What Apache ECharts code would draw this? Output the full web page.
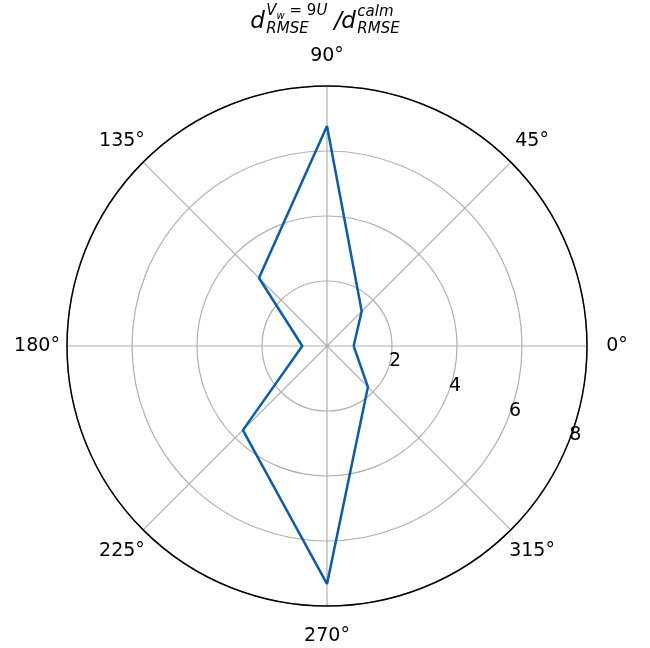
<!DOCTYPE html>
<html>
<head>
<meta charset="utf-8">
<script src="https://cdn.jsdelivr.net/npm/echarts@6/dist/echarts.min.js"></script>
<style>
  html, body { margin: 0; padding: 0; background: #fff; }
  #chart { width: 650px; height: 648px; }
</style>
</head>
<body>
<div id="chart"></div>
<script>
// Direction of each measurement (degrees) and RMSE ratio windy / calm
const directions = [0, 45, 90, 135, 180, 225, 270, 315];
const rmseRatio = [0.82, 1.51, 6.77, 2.96, 0.76, 3.66, 7.32, 1.78];
const angleLabels = ['0°', '45°', '90°', '135°', '180°', '225°', '270°', '315°'];
const radialTicks = [2, 4, 6, 8];
const radialLabelAngle = 337.5;

const FONT = 'DejaVu Sans';
const CX = 327, CY = 346, R = 260;
const GRID = { color: '#b0b0b0', width: 1.2 };

// closed polygon: repeat the first direction at 360°
const lineData = directions.map((a, i) => [rmseRatio[i], a]);
lineData.push([rmseRatio[0], 360]);

const chart = echarts.init(document.getElementById('chart'), null, { renderer: 'canvas' });

const hiddenAxis = {
  axisLine: { show: false }, axisTick: { show: false },
  axisLabel: { show: false }, splitLine: { show: false }
};

const tickLabelStyle = {
  show: true, position: 'inside', color: '#000',
  textBorderWidth: 0, textShadowBlur: 0,
  fontFamily: FONT, fontSize: 19
};

// invisible anchor symbols that only carry tick labels
const anchorItem = { color: 'transparent', opacity: 1 };

chart.setOption({
  backgroundColor: '#ffffff',
  animation: false,
  polar: [
    { center: [CX, CY], radius: R },
    // ring just outside the frame that carries the direction labels
    { center: [CX, CY], radius: R + 30 }
  ],
  angleAxis: [
    {
      polarIndex: 0,
      type: 'value', min: 0, max: 360, interval: 45,
      startAngle: 0, clockwise: false,
      axisLine: { show: true, lineStyle: { color: '#000', width: 1.5 } },
      axisTick: { show: false },
      axisLabel: { show: false },
      splitLine: { show: true, lineStyle: GRID }
    },
    Object.assign({
      polarIndex: 1, type: 'value', min: 0, max: 360,
      startAngle: 0, clockwise: false
    }, hiddenAxis)
  ],
  radiusAxis: [
    {
      polarIndex: 0,
      type: 'value', min: 0, max: radialTicks[radialTicks.length - 1], interval: 2,
      axisLine: { show: false }, axisTick: { show: false },
      axisLabel: { show: false },
      splitLine: { show: true, lineStyle: GRID }
    },
    Object.assign({ polarIndex: 1, type: 'value', min: 0, max: 1 }, hiddenAxis)
  ],
  series: [
    {
      type: 'line',
      coordinateSystem: 'polar',
      polarIndex: 0,
      data: lineData,
      symbol: 'none',
      lineStyle: { color: '#0a5cad', width: 2.5 },
      z: 5
    },
    {
      // direction tick labels
      type: 'scatter',
      coordinateSystem: 'polar',
      polarIndex: 1,
      data: directions.map(a => [1, a]),
      symbolSize: 1,
      itemStyle: anchorItem,
      silent: true,
      label: Object.assign({}, tickLabelStyle, {
        formatter: p => angleLabels[p.dataIndex]
      })
    },
    {
      // radial tick labels
      type: 'scatter',
      coordinateSystem: 'polar',
      polarIndex: 0,
      data: radialTicks.map(v => [v, radialLabelAngle]),
      symbolSize: 1,
      itemStyle: anchorItem,
      silent: true,
      label: Object.assign({}, tickLabelStyle, {
        offset: [8, -10],
        formatter: p => String(radialTicks[p.dataIndex])
      }),
      z: 6
    }
  ],
  graphic: [
    {
      type: 'group',
      left: 'center',
      top: 4,
      children: [
        { type: 'text', x: 0, y: 7, style: { text: 'd', font: 'italic 23px ' + FONT, fill: '#000' } },
        { type: 'text', x: 16, y: 0, style: {
            text: '{i|V}{s|w}{n| = 9}{i|U}',
            rich: {
              i: { font: 'italic 15px ' + FONT, fill: '#000', verticalAlign: 'top', lineHeight: 17 },
              s: { font: 'italic 10px ' + FONT, fill: '#000', verticalAlign: 'bottom', lineHeight: 17 },
              n: { font: '15px ' + FONT, fill: '#000', verticalAlign: 'top', lineHeight: 17 }
            }
          } },
        { type: 'text', x: 16, y: 18, style: { text: 'RMSE', font: 'italic 15px ' + FONT, fill: '#000' } },
        { type: 'text', x: 84, y: 7, style: { text: '/', font: 'italic 23px ' + FONT, fill: '#000' } },
        { type: 'text', x: 91, y: 7, style: { text: 'd', font: 'italic 23px ' + FONT, fill: '#000' } },
        { type: 'text', x: 107, y: 1, style: { text: 'calm', font: 'italic 15px ' + FONT, fill: '#000' } },
        { type: 'text', x: 107, y: 18, style: { text: 'RMSE', font: 'italic 15px ' + FONT, fill: '#000' } }
      ]
    }
  ]
});
</script>
</body>
</html>
